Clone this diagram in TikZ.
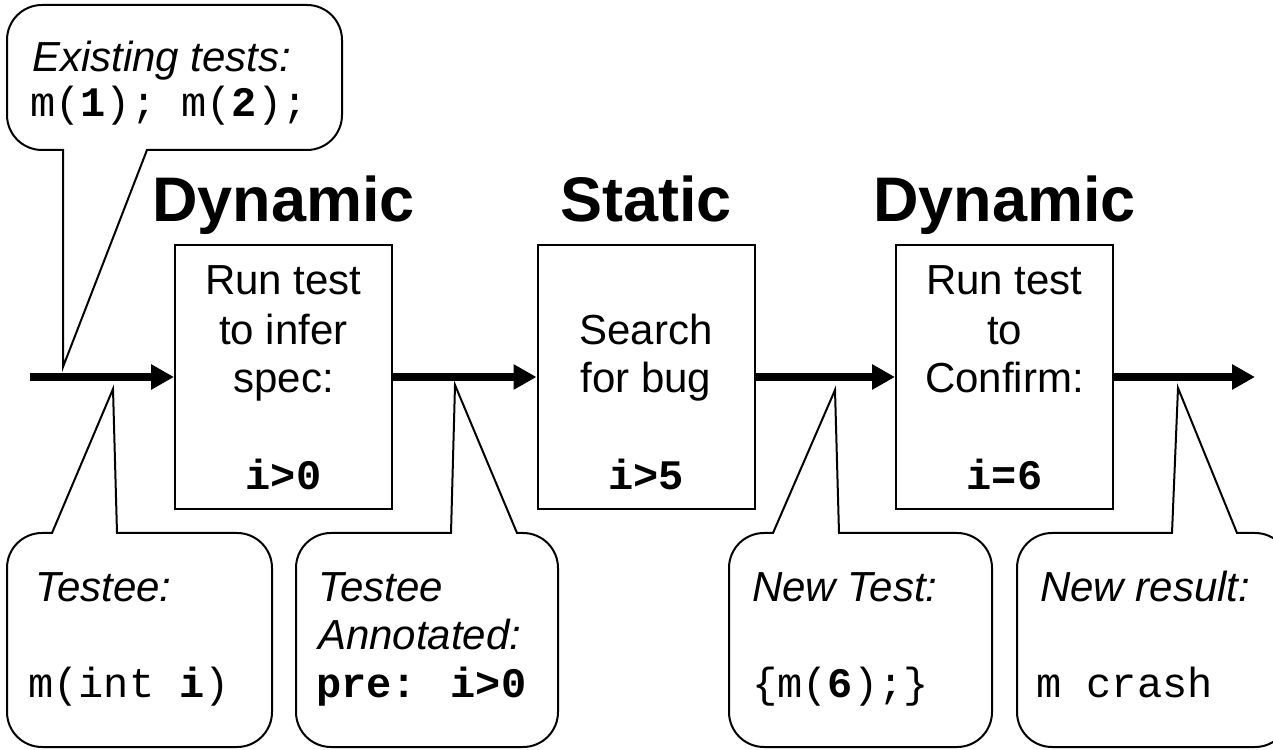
\documentclass[tikz,border=0pt]{standalone}
\usepackage{fontspec}
\setmainfont{Liberation Sans}
\newfontfamily\cour{Liberation Mono}
\usetikzlibrary{arrows.meta}
\begin{document}
\begin{tikzpicture}[x=1pt,y=1pt,
  txt/.style={inner sep=0pt, anchor=base west, font=\fontsize{42}{49}\selectfont},
  ctxt/.style={inner sep=0pt, anchor=base, font=\fontsize{42}{49}\selectfont},
  code/.style={inner sep=0pt, anchor=base, font=\cour\bfseries\fontsize{42}{49}\selectfont},
  head/.style={inner sep=0pt, anchor=base, font=\bfseries\fontsize{63}{70}\selectfont},
  stepbox/.style={draw, line width=2pt, minimum width=217pt, minimum height=264pt, inner sep=0pt},
  flow/.style={line width=8pt, -{Triangle[length=23pt,width=24pt]}},
  callout/.style={draw, line width=2pt, fill=white, line join=miter}]
\path[use as bounding box] (0,0) rectangle (1273,749);
\clip (0,0) rectangle (1273,749);

% headings
\node[head] (h1) at (283.5,527) {Dynamic};
\node[head] (h2) at (646,527) {Static};
\node[head] (h3) at (1004.5,527) {Dynamic};

% boxes
\node[stepbox] (b1) at (283.5,372) {};
\node[stepbox] (b2) at (646,372) {};
\node[stepbox] (b3) at (1004.5,372) {};

\node[ctxt] (b1a) at (283.5,454) {Run test};
\node[ctxt] (b1b) at (283.5,404) {to infer};
\node[ctxt] (b1c) at (283.5,356) {spec:};
\node[code] (b1d) at (283.5,259) {i>0};

\node[ctxt] (b2a) at (646,404) {Search};
\node[ctxt] (b2b) at (646,356) {for bug};
\node[code] (b2d) at (646,259) {i>5};

\node[ctxt] (b3a) at (1004.5,454) {Run test};
\node[ctxt] (b3b) at (1004.5,404) {to};
\node[ctxt] (b3c) at (1004.5,356) {Confirm:};
\node[code] (b3d) at (1004.5,259) {i=6};

% flow arrows
\coordinate (start) at (30,372);
\coordinate (end) at (1255,372);
\draw[flow] (start) -- (b1);
\draw[flow] (b1) -- (b2);
\draw[flow] (b2) -- (b3);
\draw[flow] (b3) -- (end);

% top callout
\draw[callout] (63,599) -- (63,382) -- (147,599) [rounded corners=35pt] -- (342,599) -- (342,744) -- (7,744) -- (7,599) [sharp corners] -- cycle;
\node[txt, font=\itshape\fontsize{42}{49}\selectfont] (c0a) at (32,677) {Existing tests:};
\node[txt, font=\cour\fontsize{42}{49}\selectfont] (c0b) at (30,632) {m(\textbf{1}); m(\textbf{2});};

% bottom callouts
\draw[callout] (52,216) -- (113,360) -- (117,216) [rounded corners=35pt] -- (272,216) -- (272,2) -- (7,2) -- (7,216) [sharp corners] -- cycle;
\draw[callout] (451,216) -- (455,364) -- (517,216) [rounded corners=35pt] -- (558,216) -- (558,2) -- (296,2) -- (296,216) [sharp corners] -- cycle;
\draw[callout] (773,216) -- (835,359) -- (839,216) [rounded corners=35pt] -- (992,216) -- (992,2) -- (729,2) -- (729,216) [sharp corners] -- cycle;
\draw[callout] (1172,216) -- (1178,361) -- (1237,216) [rounded corners=35pt] -- (1290,216) -- (1290,2) -- (1017,2) -- (1017,216) [sharp corners] -- cycle;

\node[txt, font=\itshape\fontsize{42}{49}\selectfont] (c1a) at (35,147) {Testee:};
\node[txt, font=\cour\fontsize{42}{49}\selectfont] (c1b) at (28,52) {m(int \textbf{i})};

\node[txt, font=\itshape\fontsize{42}{49}\selectfont] (c2a) at (318,147) {Testee};
\node[txt, font=\itshape\fontsize{42}{49}\selectfont] (c2b) at (318,99) {Annotated:};
\node[txt, font=\cour\bfseries\fontsize{42}{49}\selectfont] (c2c) at (316,52) {pre: i>0};

\node[txt, font=\itshape\fontsize{42}{49}\selectfont] (c3a) at (752,147) {New Test:};
\node[txt, font=\cour\fontsize{42}{49}\selectfont] (c3b) at (752,52) {\{m(\textbf{6});\}};

\node[txt, font=\itshape\fontsize{42}{49}\selectfont] (c4a) at (1040,147) {New result:};
\node[txt, font=\cour\fontsize{42}{49}\selectfont] (c4b) at (1036,52) {m crash};
\end{tikzpicture}
\end{document}
